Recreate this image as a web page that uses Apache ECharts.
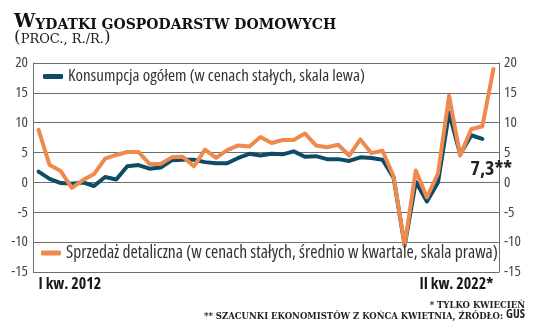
<!DOCTYPE html>
<html>
<head>
<meta charset="utf-8">
<script src="https://cdn.jsdelivr.net/npm/echarts@6/dist/echarts.min.js"></script>
<style>
html,body{margin:0;padding:0;background:#fff;}
#c{width:536px;height:328px;}
</style>
</head>
<body>
<div id="c"></div>
<script>
const categories = [
  'I kw. 2012','II kw. 2012','III kw. 2012','IV kw. 2012',
  'I kw. 2013','II kw. 2013','III kw. 2013','IV kw. 2013',
  'I kw. 2014','II kw. 2014','III kw. 2014','IV kw. 2014',
  'I kw. 2015','II kw. 2015','III kw. 2015','IV kw. 2015',
  'I kw. 2016','II kw. 2016','III kw. 2016','IV kw. 2016',
  'I kw. 2017','II kw. 2017','III kw. 2017','IV kw. 2017',
  'I kw. 2018','II kw. 2018','III kw. 2018','IV kw. 2018',
  'I kw. 2019','II kw. 2019','III kw. 2019','IV kw. 2019',
  'I kw. 2020','II kw. 2020','III kw. 2020','IV kw. 2020',
  'I kw. 2021','II kw. 2021','III kw. 2021','IV kw. 2021',
  'I kw. 2022','II kw. 2022'
];
const endLabels = ['I kw. 2012', 'II kw. 2022*'];

const seriesNames = [
  'Konsumpcja ogółem (w cenach stałych, skala lewa)',
  'Sprzedaż detaliczna (w cenach stałych, średnio w kwartale, skala prawa)'
];

// Konsumpcja ogółem, % r/r (left scale)
const konsumpcja = [
  1.8, 0.6, -0.1, -0.2, 0.0, -0.6, 0.9, 0.5, 2.7, 2.9,
  2.3, 2.5, 3.7, 3.8, 3.8, 3.4, 3.2, 3.2, 4.1, 4.8,
  4.5, 4.8, 4.7, 5.2, 4.3, 4.4, 3.9, 3.9, 3.6, 4.2,
  4.1, 3.8, 0.8, -10.6, 0.1, -3.2, 0.0, 11.7, 4.7, 7.9,
  7.3, null
];
// Sprzedaż detaliczna, % r/r (right scale)
const sprzedaz = [
  8.8, 2.9, 1.9, -0.9, 0.4, 1.4, 4.0, 4.6, 5.1, 5.1,
  3.1, 3.1, 4.2, 4.3, 2.7, 5.5, 4.1, 5.4, 6.2, 6.0,
  7.6, 6.6, 7.1, 7.1, 8.2, 6.2, 5.9, 6.3, 4.5, 7.2,
  4.9, 5.3, 1.0, -10.5, 2.0, -2.5, 1.5, 14.5, 4.5, 8.9,
  9.4, 19.0
];
const yTicks = { min: -15, max: 20, step: 5 };

const BLUE = '#0e4c66';
const ORANGE = '#ef8a4e';
const GRID = '#6e6e6e';
const sans = "'Open Sans', 'DejaVu Sans', sans-serif";
const serif = "'DejaVu Serif', 'Liberation Serif', serif";

const n = categories.length;
let lastBlue = -1;
konsumpcja.forEach((v, i) => { if (v !== null) lastBlue = i; });

const blueData = konsumpcja.map((v, i) => {
  if (i !== lastBlue) return v;
  return {
    value: v,
    label: {
      show: true,
      position: 'bottom',
      distance: 20,
      offset: [9, 0],
      formatter: p => String(p.value).replace('.', ',') + '**',
      fontFamily: sans,
      fontStyle: 'condensed',
      fontWeight: 'bold',
      fontSize: 20,
      color: '#222'
    }
  };
});

const xData = categories.map((c, i) => {
  if (i === 0) return { value: c, textStyle: { align: 'left' } };
  if (i === n - 1) return { value: c, textStyle: { align: 'right' } };
  return c;
});

const yAxisBase = {
  type: 'value',
  min: yTicks.min, max: yTicks.max, interval: yTicks.step,
  axisLine: { show: true, lineStyle: { color: GRID, width: 1 } },
  axisTick: { show: false },
  axisLabel: { margin: 5, fontFamily: sans, fontStyle: 'condensed', fontSize: 15, color: '#444' }
};

const chart = echarts.init(document.getElementById('c'), null, { renderer: 'canvas' });
chart.setOption({
  animation: false,
  backgroundColor: '#fff',
  grid: { left: 33, right: 37, top: 63, bottom: 56, containLabel: false },
  xAxis: {
    type: 'category',
    data: xData,
    boundaryGap: true,
    axisLine: { show: false },
    axisTick: { show: false },
    splitLine: { show: false },
    axisLabel: {
      interval: idx => idx === 0 || idx === n - 1,
      formatter: (v, idx) => idx === 0 ? endLabels[0] : endLabels[1],
      margin: 4,
      fontFamily: sans,
      fontStyle: 'condensed',
      fontWeight: 'bold',
      fontSize: 16,
      color: '#1a1a1a'
    }
  },
  yAxis: [
    Object.assign({}, yAxisBase, {
      position: 'left',
      splitLine: { show: true, lineStyle: { color: GRID, width: 1 } }
    }),
    Object.assign({}, yAxisBase, {
      position: 'right',
      splitLine: { show: false }
    })
  ],
  legend: [
    {
      data: [seriesNames[0]],
      left: 43, top: 68, padding: 0,
      icon: 'roundRect', itemWidth: 20, itemHeight: 5,
      selectedMode: false,
      textStyle: { fontFamily: sans, fontStyle: 'condensed', fontSize: 17, color: '#333' }
    },
    {
      data: [seriesNames[1]],
      left: 41, top: 244, padding: 0,
      icon: 'roundRect', itemWidth: 20, itemHeight: 5,
      selectedMode: false,
      textStyle: { fontFamily: sans, fontStyle: 'condensed', fontSize: 17.5, color: '#333' }
    }
  ],
  series: [
    {
      name: seriesNames[0],
      type: 'line',
      yAxisIndex: 0,
      data: blueData,
      symbol: 'circle',
      symbolSize: 0,
      showSymbol: true,
      color: BLUE,
      lineStyle: { color: BLUE, width: 4, cap: 'round', join: 'round' },
      z: 2
    },
    {
      name: seriesNames[1],
      type: 'line',
      yAxisIndex: 1,
      data: sprzedaz,
      showSymbol: false,
      symbol: 'none',
      color: ORANGE,
      lineStyle: { color: ORANGE, width: 4, cap: 'round', join: 'round' },
      z: 3
    }
  ],
  graphic: [
    {
      type: 'text', left: 14, top: 13,
      style: {
        text: '{w|W}{s|YDATKI GOSPODARSTW DOMOWYCH}',
        rich: {
          w: { fontFamily: serif, fontWeight: 'bold', fontSize: 19, lineHeight: 19, verticalAlign: 'bottom', fill: '#111' },
          s: { fontFamily: serif, fontWeight: 'bold', fontSize: 14, lineHeight: 14, verticalAlign: 'bottom', fill: '#111' }
        }
      }
    },
    {
      type: 'text', left: 14, top: 29,
      style: {
        text: '{p|(}{s|PROC., R./R.}{p|)}',
        rich: {
          p: { fontFamily: serif, fontSize: 17, lineHeight: 17, verticalAlign: 'bottom', fill: '#222' },
          s: { fontFamily: serif, fontSize: 13, lineHeight: 13, verticalAlign: 'bottom', fill: '#222' }
        }
      }
    },
    {
      type: 'text', right: 11, top: 301,
      style: {
        text: '* TYLKO KWIECIEŃ',
        fontFamily: serif, fontWeight: 'bold', fontSize: 8.5, fill: '#222'
      }
    },
    {
      type: 'text', right: 11, top: 309,
      style: {
        text: '{s|** SZACUNKI EKONOMISTÓW Z KOŃCA KWIETNIA, ŹRÓDŁO: }{g|GUS}',
        rich: {
          s: { fontFamily: serif, fontWeight: 'bold', fontSize: 8.5, lineHeight: 10, verticalAlign: 'bottom', fill: '#222' },
          g: { fontFamily: sans, fontStyle: 'condensed', fontWeight: 'bold', fontSize: 12, lineHeight: 12, verticalAlign: 'bottom', fill: '#222' }
        }
      }
    }
  ]
});
</script>
</body>
</html>
